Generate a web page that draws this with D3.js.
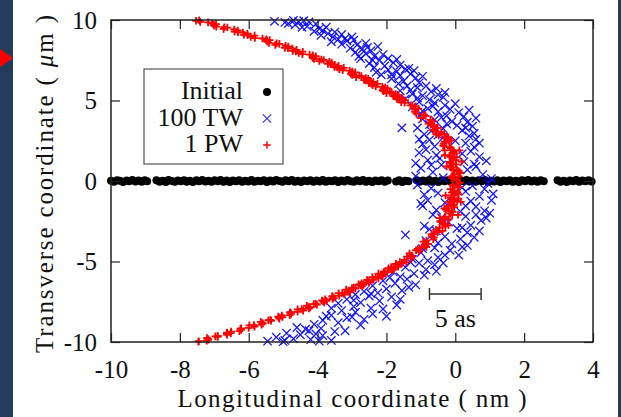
<!DOCTYPE html>
<html>
<head>
<meta charset="utf-8">
<script src="https://cdn.jsdelivr.net/npm/d3@7"></script>
<style>
body{margin:0;background:#fff;}
svg{display:block;}
text{font-family:"Liberation Serif","DejaVu Serif",serif;fill:#111;}
</style>
</head>
<body>
<div id="app"></div>
<script>
const xTicks = [-10, -8, -6, -4, -2, 0, 2, 4];
const yTicks = [-10, -5, 0, 5, 10];
const legendLabels = ["Initial", "100 TW", "1 PW"];

// Initial electron positions (nm, um)
const initialData = [
[-10.00,0.02],[-9.91,-0.04],[-9.82,0.05],[-9.74,0.01],[-9.65,-0.06],[-9.55,0.03],[-9.47,-0.02],[-9.38,0.06],[-9.29,-0.03],[-9.20,0.03],
[-9.11,-0.05],[-9.02,0.04],[-8.95,-0.01],[-8.68,0.05],[-8.59,-0.04],[-8.50,0.02],[-8.41,-0.06],[-8.33,0.06],[-8.24,0.00],[-8.15,-0.05],
[-8.06,0.03],[-7.97,-0.02],[-7.88,0.05],[-7.80,-0.04],[-7.71,0.02],[-7.62,-0.06],[-7.52,0.04],[-7.44,-0.02],[-7.35,0.06],[-7.26,-0.03],
[-7.17,0.02],[-7.08,-0.05],[-6.99,0.05],[-6.90,-0.01],[-6.82,0.06],[-6.73,-0.04],[-6.64,0.03],[-6.55,-0.06],[-6.46,0.03],[-6.37,-0.02],
[-6.28,0.05],[-6.19,-0.05],[-6.10,0.01],[-6.01,-0.03],[-5.92,0.06],[-5.83,-0.05],[-5.74,0.02],[-5.65,-0.02],[-5.56,0.05],[-5.47,-0.06],
[-5.38,0.03],[-5.29,-0.03],[-5.20,0.06],[-5.11,0.00],[-5.02,-0.05],[-4.93,0.04],[-4.84,-0.02],[-4.75,0.06],[-4.66,-0.04],[-4.57,0.02],
[-4.48,-0.06],[-4.39,0.03],[-4.30,-0.01],[-4.21,0.05],[-4.12,-0.05],[-4.03,0.03],[-3.94,-0.03],[-3.85,0.06],[-3.76,-0.05],[-3.67,0.02],
[-3.58,-0.02],[-3.49,0.05],[-3.40,-0.06],[-3.31,0.03],[-3.22,-0.03],[-3.13,0.06],[-3.04,-0.01],[-2.95,-0.05],[-2.86,0.04],[-2.77,-0.02],
[-2.68,0.06],[-2.59,-0.04],[-2.50,0.02],[-2.41,-0.06],[-2.32,0.03],[-2.23,-0.02],[-2.14,0.05],[-2.05,-0.05],[-1.96,0.03],[-1.72,-0.03],
[-1.63,0.05],[-1.54,-0.06],[-1.45,0.02],[-1.36,-0.02],[-1.12,0.05],[-1.03,-0.05],[-0.94,0.03],[-0.85,-0.03],[-0.76,0.06],[-0.67,-0.05],
[-0.58,0.02],[-0.49,-0.06],[-0.40,0.04],[-0.31,-0.02],[-0.22,0.05],[-0.13,-0.04],[-0.04,0.02],[0.05,-0.06],[0.14,0.05],[0.23,-0.02],
[0.32,0.06],[0.41,-0.03],[0.50,0.03],[0.59,-0.05],[0.68,0.04],[0.77,-0.01],[0.86,0.06],[0.95,-0.05],[1.04,0.02],[1.13,-0.03],
[1.22,0.05],[1.31,-0.06],[1.40,0.03],[1.49,-0.02],[1.58,0.05],[1.67,-0.04],[1.76,0.02],[1.85,-0.06],[1.94,0.04],[2.03,-0.02],
[2.12,0.06],[2.21,-0.03],[2.30,0.03],[2.39,-0.05],[2.48,0.05],[2.57,-0.01],[2.97,0.05],[3.06,-0.04],[3.15,0.02],[3.24,-0.06],
[3.33,0.03],[3.42,-0.02],[3.51,0.06],[3.60,-0.05],[3.69,0.03],[3.78,-0.02],[3.87,0.04],[3.96,-0.03]
];

// 100 TW
const tw100Data = [
[-5.25,9.92],[-4.95,9.85],[-4.70,9.97],[-4.55,9.90],[-4.40,9.96],[-4.25,9.88],[-4.65,9.70],[-4.30,9.60],[-4.05,9.75],[-3.95,9.45],
[-4.10,9.30],[-3.85,9.35],[-3.70,9.15],[-3.50,9.25],[-3.90,9.05],[-3.30,9.10],[-3.55,8.95],[-3.20,8.85],
[-3.40,8.80],[-3.15,8.70],[-2.95,8.75],[-3.30,8.50],[-2.85,8.45],[-2.60,8.55],[-3.05,8.25],[-2.70,8.20],[-2.45,8.10],[-2.90,8.00],[-2.25,8.35],
[-2.60,7.90],[-2.35,7.75],[-2.10,7.85],[-2.75,7.60],[-2.20,7.50],[-1.95,7.60],[-2.50,7.30],[-1.80,7.35],[-2.05,7.15],[-1.60,7.20],[-2.35,7.05],
[-1.95,6.90],[-1.70,6.80],[-1.45,6.95],[-2.15,6.60],[-1.60,6.55],[-1.30,6.65],[-1.85,6.35],[-1.15,6.40],[-1.50,6.20],[-1.05,6.10],
[-1.40,5.90],[-1.10,5.80],[-0.85,5.90],[-1.60,5.60],[-0.70,5.55],[-1.25,5.40],[-0.95,5.30],[-0.50,5.35],[-1.45,5.10],[-0.75,5.05],[-0.35,5.20],
[-1.05,4.90],[-0.60,4.85],[-0.30,4.70],[-1.25,4.60],[-0.80,4.50],[-0.15,4.45],[-0.50,4.30],[0.10,4.25],[-1.00,4.15],[-0.25,4.05],[0.25,4.00],
[-0.95,3.85],[-0.60,3.80],[-0.10,3.70],[0.35,3.65],[-0.75,3.50],[0.05,3.45],[0.50,3.40],[-1.10,3.30],[-0.35,3.25],[0.20,3.15],[-1.55,3.30],
[-0.90,2.90],[-0.50,2.85],[0.40,2.80],[0.60,2.60],[-0.75,2.55],[-0.95,2.30],[0.30,2.35],[-0.60,2.15],[0.55,2.10],[0.00,2.50],
[-0.85,1.95],[-1.05,1.75],[-0.55,1.60],[0.45,1.85],[0.70,1.50],[-0.80,1.30],[0.25,1.20],[-1.15,1.10],[0.90,1.25],[-0.40,1.00],
[-1.00,0.80],[-0.65,0.55],[0.35,0.70],[0.80,0.40],[1.05,0.15],[-1.15,0.30],[0.60,0.90],[-0.35,0.20],
[-4.85,9.78],[-4.45,9.55],[-3.75,9.55],[-3.60,8.65],[-3.00,8.95],[-2.55,8.30],[-2.80,7.75],[-2.40,7.50],[-1.70,7.55],[-1.35,7.00],
[-2.30,6.75],[-1.85,6.60],[-1.20,6.85],[-0.95,6.50],[-1.65,6.05],[-1.30,5.65],[-0.55,5.75],[-0.30,5.50],[-1.10,5.15],[-0.65,4.65],
[0.00,4.80],[-0.95,4.35],[0.40,4.40],[-0.40,3.95],[0.60,3.90],[-0.25,3.55],[0.30,3.30],[-0.70,3.10],[0.55,2.95],[-0.35,2.70],
[0.70,2.35],[-1.05,2.60],[0.20,1.70],[-0.45,1.40],[0.55,1.05],[-0.70,1.00],
[-1.10,-0.25],[-0.70,-0.45],[0.50,-0.30],[0.95,-0.15],[1.10,-0.80],[-0.90,-0.85],[0.30,-0.65],[0.70,-0.95],
[-0.80,-1.20],[-0.30,-1.35],[0.45,-1.25],[1.05,-1.20],[0.60,-1.60],[-0.55,-1.80],[0.15,-1.90],[0.85,-1.85],[-0.95,-1.55],
[-0.65,-2.10],[0.30,-2.20],[0.75,-2.45],[-0.20,-2.55],[0.45,-2.75],[-0.90,-2.80],[0.05,-2.95],[0.90,-2.30],
[-0.55,-3.10],[0.35,-3.20],[-0.30,-3.45],[0.15,-3.60],[-0.85,-3.70],[0.55,-3.50],[-1.45,-3.35],[-0.10,-3.90],
[-0.60,-4.15],[-0.15,-4.30],[-1.00,-4.45],[0.10,-4.60],[-0.50,-4.75],[-1.25,-4.85],[-0.80,-4.95],[0.20,-4.10],
[-1.05,-5.10],[-0.60,-5.20],[-1.45,-5.35],[-0.85,-5.50],[-1.80,-5.65],[-1.20,-5.75],[-0.55,-5.60],[-1.60,-5.95],
[-1.40,-6.10],[-2.10,-6.20],[-1.75,-6.35],[-2.40,-6.50],[-1.15,-6.45],[-2.00,-6.70],[-1.55,-6.80],[-2.65,-6.85],[-2.25,-6.95],
[-2.90,-7.05],[-2.50,-7.15],[-1.85,-7.20],[-3.15,-7.35],[-2.20,-7.45],[-2.75,-7.55],[-3.40,-7.60],[-1.70,-7.70],[-2.95,-7.80],[-2.45,-7.90],
[-3.30,-8.05],[-2.90,-8.15],[-2.40,-8.25],[-3.60,-8.35],[-2.00,-8.40],[-3.15,-8.50],[-2.65,-8.60],[-3.85,-8.65],[-3.40,-8.80],[-2.75,-8.95],[-4.10,-8.90],
[-4.60,-9.10],[-3.90,-9.15],[-4.25,-9.30],[-3.50,-9.35],[-4.90,-9.45],[-4.50,-9.55],[-3.85,-9.60],[-5.20,-9.70],[-4.70,-9.80],[-4.20,-9.85],[-5.45,-9.95],[-3.60,-9.90],[-5.00,-9.98],
[0.20,-0.40],[-0.50,-0.75],[0.85,-0.50],[-1.00,-1.40],[0.30,-1.55],[1.00,-2.00],[-0.40,-2.30],[0.60,-2.10],[-0.75,-3.00],[0.20,-2.90],
[0.70,-3.10],[-0.50,-3.85],[0.35,-4.00],[-0.30,-4.60],[-0.95,-4.20],[-0.35,-5.10],[-1.30,-5.05],[-0.90,-5.85],[-1.90,-6.00],[-1.35,-6.60],
[-2.45,-7.00],[-1.60,-7.35],[-2.95,-7.40],[-3.60,-7.90],[-2.10,-7.95],[-3.00,-8.45],[-3.75,-8.40],[-4.35,-9.20],[-3.20,-9.30],[-4.05,-9.50],
[-4.95,-9.90],[-3.95,-9.95]
];

// 1 PW
const pw1Data = [
[-7.44,9.98],[-7.41,9.88],[-7.06,9.80],[-7.02,9.72],[-6.94,9.59],[-6.62,9.53],[-6.42,9.41],[-6.41,9.28],[-6.17,9.22],[-6.14,9.08],
[-5.83,9.03],[-5.82,8.88],[-5.49,8.80],[-5.47,8.73],[-5.41,8.58],[-5.11,8.52],[-4.93,8.40],[-4.95,8.27],[-4.73,8.22],[-4.72,8.08],
[-4.43,8.03],[-4.44,7.88],[-4.14,7.80],[-4.14,7.73],[-4.10,7.58],[-3.82,7.52],[-3.66,7.40],[-3.70,7.27],[-3.50,7.22],[-3.51,7.08],
[-3.24,7.03],[-3.27,6.88],[-2.99,6.80],[-3.02,6.73],[-2.99,6.58],[-2.73,6.52],[-2.60,6.40],[-2.65,6.27],[-2.48,6.22],[-2.51,6.08],
[-2.26,6.03],[-2.31,5.88],[-2.04,5.80],[-2.09,5.73],[-2.09,5.58],[-1.85,5.52],[-1.73,5.40],[-1.80,5.27],[-1.65,5.22],[-1.69,5.08],
[-1.46,5.02],[-1.47,4.86],[-1.16,4.62],[-1.17,4.43],[-1.13,4.18],[-0.86,4.04],[-0.72,3.80],[-0.78,3.57],[-0.61,3.41],[-0.65,3.18],
[-0.41,3.03],[-0.48,2.83],[-0.24,2.62],[-0.31,2.43],[-0.34,2.18],[-0.13,2.04],[-0.05,1.80],[-0.17,1.57],[-0.06,1.41],[-0.16,1.18],
[0.02,1.03],[-0.10,0.83],[0.10,0.62],[-0.03,0.43],[-0.11,0.18],[0.05,0.04],
[-0.32,2.92],[-0.12,2.52],[-0.08,1.92],[0.04,1.48],[-0.14,0.92],[0.10,0.28],[-0.20,2.72],[-0.06,0.66],[-0.55,3.30],[-0.90,4.10],[-1.30,4.70],
[-7.53,9.95],[-7.18,9.85],[-6.95,9.75],[-7.00,9.65],[-6.71,9.55],[-6.73,9.45],[-6.32,9.35],[-6.31,9.25],[-6.04,9.15],[-6.03,9.05],
[-5.94,8.95],[-5.60,8.85],[-5.39,8.75],[-5.46,8.65],[-5.19,8.55],[-5.23,8.45],[-4.85,8.35],[-4.86,8.25],[-4.61,8.15],[-4.63,8.05],
[-4.55,7.95],[-4.23,7.85],[-4.05,7.75],[-4.14,7.65],[-3.89,7.55],[-3.95,7.45],[-3.59,7.35],[-3.62,7.25],[-3.39,7.15],[-3.43,7.05],
[-3.37,6.95],[-3.07,6.85],[-2.91,6.75],[-3.03,6.65],[-2.79,6.55],[-2.88,6.45],[-2.53,6.35],[-2.59,6.25],[-2.38,6.15],[-2.44,6.05],
[-2.40,5.95],[-2.12,5.85],[-1.97,5.75],[-2.11,5.65],[-1.90,5.55],[-2.00,5.45],[-1.67,5.35],[-1.75,5.25],[-1.55,5.15],[-1.63,5.05],
[-1.57,4.90],[-1.25,4.70],[-1.07,4.50],[-1.17,4.30],[-0.92,4.10],[-1.00,3.90],[-0.65,3.70],[-0.71,3.50],[-0.51,3.30],[-0.58,3.10],
[-0.55,2.90],[-0.30,2.70],[-0.18,2.50],[-0.34,2.30],[-0.17,2.10],[-0.31,1.90],[-0.02,1.70],[-0.14,1.50],[0.01,1.30],[-0.12,1.10],
[-0.15,0.90],[0.05,0.70],[0.12,0.50],[-0.09,0.30],[0.04,0.10],
[0.15,0.50],[-0.25,0.90],[0.18,1.20],[-0.30,1.60],[0.12,1.90],[-0.35,2.20],
[-0.07,-0.22],[0.09,-0.38],[-0.02,-0.63],[0.09,-0.82],[-0.13,-1.04],[-0.02,-1.18],[-0.13,-1.43],[-0.03,-1.62],[-0.27,-1.77],[-0.15,-2.03],
[-0.30,-2.22],[-0.19,-2.38],[-0.36,-2.63],[-0.29,-2.82],[-0.56,-3.04],[-0.51,-3.18],[-0.68,-3.43],[-0.64,-3.62],[-0.93,-3.77],[-0.88,-4.03],
[-1.09,-4.22],[-1.05,-4.38],[-1.28,-4.63],[-1.28,-4.82],[-1.61,-5.04],
[-1.55,-5.12],[-1.72,-5.18],[-1.66,-5.33],[-1.94,-5.42],[-1.87,-5.47],[-2.05,-5.62],[-1.97,-5.68],[-2.16,-5.83],[-2.12,-5.92],[-2.41,-5.97],
[-2.37,-6.12],[-2.55,-6.18],[-2.51,-6.33],[-2.81,-6.42],[-2.75,-6.47],[-2.95,-6.62],[-2.90,-6.68],[-3.11,-6.83],[-3.08,-6.92],[-3.39,-6.97],
[-3.37,-7.12],[-3.57,-7.18],[-3.56,-7.33],[-3.87,-7.42],[-3.84,-7.47],[-4.06,-7.62],[-4.02,-7.68],[-4.26,-7.83],[-4.25,-7.92],[-4.58,-7.97],
[-4.58,-8.12],[-4.80,-8.18],[-4.81,-8.33],[-5.14,-8.42],[-5.13,-8.47],[-5.37,-8.62],[-5.35,-8.68],[-5.61,-8.83],[-5.63,-8.92],[-5.98,-8.97],
[-6.00,-9.12],[-6.24,-9.18],[-6.27,-9.33],[-6.63,-9.42],[-6.64,-9.47],[-6.90,-9.62],[-6.90,-9.68],[-7.18,-9.83],[-7.22,-9.92],[-7.46,-9.98],
[0.12,-0.12],[-0.10,-0.72],[0.05,-1.25],[-0.20,-1.55],[-0.08,-1.92],[-0.40,-2.55],[-0.20,-2.75],[-0.62,-3.30],[-0.98,-4.12],[-1.40,-4.70],
[0.12,-0.10],[-0.06,-0.30],[-0.14,-0.50],[0.06,-0.70],[-0.06,-0.90],[0.09,-1.10],[-0.17,-1.30],[-0.05,-1.50],[-0.21,-1.70],[-0.10,-1.90],
[-0.09,-2.10],[-0.31,-2.30],[-0.44,-2.50],[-0.29,-2.70],[-0.46,-2.90],[-0.37,-3.10],[-0.69,-3.30],[-0.62,-3.50],[-0.84,-3.70],[-0.79,-3.90],
[-0.84,-4.10],[-1.14,-4.30],[-1.33,-4.50],[-1.24,-4.70],[-1.48,-4.90],
[-1.42,-5.05],[-1.73,-5.15],[-1.66,-5.25],[-1.86,-5.35],[-1.79,-5.45],[-1.82,-5.55],[-2.08,-5.65],[-2.23,-5.75],[-2.11,-5.85],[-2.31,-5.95],
[-2.23,-6.05],[-2.56,-6.15],[-2.50,-6.25],[-2.72,-6.35],[-2.67,-6.45],[-2.71,-6.55],[-3.00,-6.65],[-3.17,-6.75],[-3.06,-6.85],[-3.28,-6.95],
[-3.22,-7.05],[-3.57,-7.15],[-3.53,-7.25],[-3.78,-7.35],[-3.74,-7.45],[-3.81,-7.55],[-4.11,-7.65],[-4.31,-7.75],[-4.22,-7.85],[-4.46,-7.95],
[-4.42,-8.05],[-4.79,-8.15],[-4.77,-8.25],[-5.04,-8.35],[-5.02,-8.45],[-5.11,-8.55],[-5.43,-8.65],[-5.65,-8.75],[-5.59,-8.85],[-5.85,-8.95],
[-5.83,-9.05],[-6.22,-9.15],[-6.22,-9.25],[-6.51,-9.35],[-6.52,-9.45],[-6.63,-9.55],[-6.97,-9.65],[-7.21,-9.75],[-7.17,-9.85],[-7.45,-9.95],
[0.10,-0.40],[-0.28,-0.90],[0.16,-1.30],[-0.32,-1.70],[0.08,-2.10],[-0.45,-2.30]
];

var w = 621;
var h = 417;
const plotLeft = 111, plotRight = 593, plotTop = 20, plotBottom = 342;

const svg = d3.select("#app")
    .append("svg")
    .attr("width", w)
    .attr("height", h)
    .style("background-color", "#fff");

// side strips of the slide
svg.append("rect").attr("x", 0).attr("y", 0).attr("width", 13).attr("height", h).attr("fill", "#243c5c");
svg.append("rect").attr("x", 618).attr("y", 0).attr("width", 3).attr("height", h).attr("fill", "#243c5c");
svg.append("path").attr("d", "M0,49L13,58L0,67Z").attr("fill", "#ff0000");

const xScale = d3.scaleLinear().domain([-10, 4]).range([plotLeft, plotRight]);
const yScale = d3.scaleLinear().domain([-10, 10]).range([plotBottom, plotTop]);

const crossPath = "M-4.2,-4.2L4.2,4.2M-4.2,4.2L4.2,-4.2";
const plusPath = "M-3.8,0H3.8M0,-3.8V3.8";

svg.selectAll(".dot")
    .data(initialData)
    .enter()
    .append("circle")
    .attr("class", "dot")
    .attr("cx", d => xScale(d[0]))
    .attr("cy", d => yScale(d[1]))
    .attr("r", 4)
    .attr("fill", "#000");

svg.selectAll(".tw")
    .data(tw100Data)
    .enter()
    .append("path")
    .attr("class", "tw")
    .attr("d", crossPath)
    .attr("transform", d => "translate(" + xScale(d[0]) + "," + yScale(d[1]) + ")")
    .attr("stroke", "#0000ff")
    .attr("stroke-width", 1.3)
    .attr("stroke-opacity", 0.9)
    .attr("fill", "none");

svg.selectAll(".pw")
    .data(pw1Data)
    .enter()
    .append("path")
    .attr("class", "pw")
    .attr("d", plusPath)
    .attr("transform", d => "translate(" + xScale(d[0]) + "," + yScale(d[1]) + ")")
    .attr("stroke", "#ff0000")
    .attr("stroke-width", 1.8)
    .attr("fill", "none");

// axes with inward ticks
const axisStyle = g => {
    g.select(".domain").remove();
    g.selectAll(".tick line").attr("stroke", "#222").attr("stroke-width", 1.2);
    g.selectAll(".tick text").style("font-size", "25px").attr("fill", "#111");
};

svg.append("g")
    .attr("id", "x-axis")
    .attr("transform", "translate(0," + plotBottom + ")")
    .call(d3.axisBottom(xScale).tickValues(xTicks).tickSize(-9).tickPadding(18).tickFormat(d3.format("d")))
    .call(axisStyle);

svg.append("g")
    .attr("transform", "translate(0," + plotTop + ")")
    .call(d3.axisTop(xScale).tickValues(xTicks).tickSize(-9).tickFormat(""))
    .call(axisStyle);

svg.append("g")
    .attr("id", "y-axis")
    .attr("transform", "translate(" + plotLeft + ",0)")
    .call(d3.axisLeft(yScale).tickValues(yTicks).tickSize(-9).tickPadding(14).tickFormat(d3.format("d")))
    .call(axisStyle);

svg.append("g")
    .attr("transform", "translate(" + plotRight + ",0)")
    .call(d3.axisRight(yScale).tickValues(yTicks).tickSize(-9).tickFormat(""))
    .call(axisStyle);

svg.append("rect")
    .attr("x", plotLeft)
    .attr("y", plotTop)
    .attr("width", plotRight - plotLeft)
    .attr("height", plotBottom - plotTop)
    .attr("fill", "none")
    .attr("stroke", "#222")
    .attr("stroke-width", 1.5);

svg.selectAll(".tick text").text(function () { return this.textContent.replace("\u2212", "-"); });

// axis titles
svg.append("text")
    .attr("x", 352)
    .attr("y", 407)
    .style("text-anchor", "middle")
    .style("font-size", "25px")
    .attr("textLength", 349)
    .attr("lengthAdjust", "spacing")
    .text("Longitudinal coordinate ( nm )");

const yTitle = svg.append("text")
    .attr("transform", "translate(53,184) rotate(-90)")
    .style("text-anchor", "middle")
    .style("font-size", "25px")
    .attr("textLength", 338)
    .attr("lengthAdjust", "spacing");
yTitle.append("tspan").text("Transverse coordinate ( ");
yTitle.append("tspan").style("font-style", "italic").text("\u03bc");
yTitle.append("tspan").text("m )");

// legend
const legend = svg.append("g").attr("id", "legend");
legend.append("rect")
    .attr("x", 144)
    .attr("y", 69)
    .attr("width", 139)
    .attr("height", 95)
    .attr("fill", "#fff")
    .attr("stroke", "#555")
    .attr("stroke-width", 1.2);

const rowY = [92, 118.5, 145];
legend.selectAll(".lab")
    .data(legendLabels)
    .enter()
    .append("text")
    .attr("class", "lab")
    .attr("x", 243)
    .attr("y", (d, i) => rowY[i] + 7)
    .style("text-anchor", "end")
    .style("font-size", "26px")
    .text(d => d);

legend.append("circle").attr("cx", 267).attr("cy", rowY[0]).attr("r", 4).attr("fill", "#000");
legend.append("path").attr("d", crossPath).attr("transform", "translate(267," + rowY[1] + ")")
    .attr("stroke", "#0000ff").attr("stroke-width", 1.2).attr("stroke-opacity", 0.8).attr("fill", "none");
legend.append("path").attr("d", plusPath).attr("transform", "translate(267," + rowY[2] + ")")
    .attr("stroke", "#ff0000").attr("stroke-width", 1.4).attr("fill", "none");

// 5 as scale bar (1.5 nm)
const bar = svg.append("g").attr("stroke", "#333").attr("stroke-width", 1.5);
bar.append("line").attr("x1", xScale(-0.75)).attr("x2", xScale(0.75)).attr("y1", 294).attr("y2", 294);
bar.append("line").attr("x1", xScale(-0.75)).attr("x2", xScale(-0.75)).attr("y1", 288).attr("y2", 300);
bar.append("line").attr("x1", xScale(0.75)).attr("x2", xScale(0.75)).attr("y1", 288).attr("y2", 300);

svg.append("text")
    .attr("x", xScale(0))
    .attr("y", 327)
    .style("text-anchor", "middle")
    .style("font-size", "26px")
    .text("5 as");
</script>
</body>
</html>
